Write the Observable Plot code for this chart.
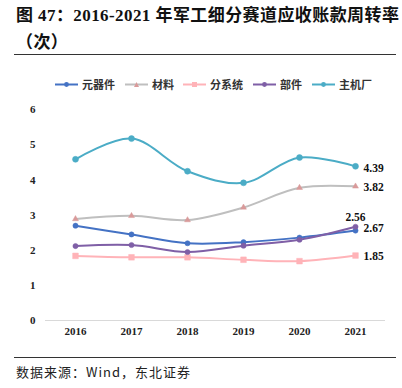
<!DOCTYPE html>
<html><head><meta charset="utf-8">
<script src="https://cdn.jsdelivr.net/npm/d3@7"></script>
<script src="https://cdn.jsdelivr.net/npm/@observablehq/plot@0.6"></script>
<style>
body{margin:0;background:#fff;width:402px;height:388px;position:relative;overflow:hidden;font-family:"Noto Sans CJK SC",sans-serif;}
#title{position:absolute;left:16px;top:2px;font-family:"Liberation Serif","Noto Sans CJK SC",serif;font-weight:bold;font-size:17px;line-height:27px;letter-spacing:0.42px;color:#111;white-space:nowrap;}
.rule{position:absolute;left:14px;width:382px;height:0;border-top:1.3px solid #333;}
#legend{position:absolute;top:76px;left:0;width:402px;height:16px;}
.li{position:absolute;top:0;height:16px;display:flex;align-items:center;font-size:11px;font-weight:bold;color:#333;}
.li svg{margin-right:4px;}
#chart{position:absolute;left:0;top:60px;}
#source{position:absolute;left:16px;top:362px;font-size:13px;letter-spacing:1px;color:#222;}
</style></head>
<body>
<div id="title">图 47：2016-2021 年军工细分赛道应收账款周转率<br>（次）</div>
<div class="rule" style="top:54px"></div>
<div id="legend"></div>
<div id="chart"></div>
<div class="rule" style="top:357px"></div>
<div id="source">数据来源：Wind，东北证券</div>
<script>
const years = ["2016","2017","2018","2019","2020","2021"];
const seriesNames = ["元器件","材料","分系统","部件","主机厂"];
const yuanqijian = [2.70, 2.45, 2.20, 2.23, 2.36, 2.56];
const cailiao = [2.89, 2.98, 2.86, 3.22, 3.78, 3.82];
const fenxitong = [1.84, 1.80, 1.80, 1.73, 1.69, 1.85];
const bujian = [2.12, 2.15, 1.95, 2.13, 2.30, 2.67];
const zhujichang = [4.59, 5.18, 4.25, 3.92, 4.64, 4.39];
const yTicks = [0,1,2,3,4,5,6];

const seriesValues = [yuanqijian, cailiao, fenxitong, bujian, zhujichang];
const lineColors = ["#4472c4","#bfbfbf","#ffb3b8","#7f5fa6","#4bacc6"];
const markColors = ["#4472c4","#d99a9a","#ffb3b8","#7f5fa6","#4bacc6"];
const symbols = ["circle","triangle","square","circle","circle"];
const markR = [2.6,2.2,3.2,2.6,3];

const data = [];
seriesNames.forEach((s,i)=>years.forEach((y,j)=>data.push({series:s, year:y, value:seriesValues[i][j], idx:i})));

const labelOpts = {
  "元器件": {dx:0, dy:-13.5, anchor:"middle"},
  "材料": {dx:8, dy:1, anchor:"start"},
  "分系统": {dx:8, dy:1, anchor:"start"},
  "部件": {dx:8, dy:1.5, anchor:"start"},
  "主机厂": {dx:8, dy:1.5, anchor:"start"}
};

const marks = [
  Plot.ruleY([0], {stroke:"#d9d9d9", strokeWidth:1.2}),
  Plot.axisY({ticks: yTicks, tickSize:0, tickPadding:10, fontSize:11, fontWeight:"bold", fill:"#222", fontFamily:"Liberation Serif", tickFormat:d=>String(d), label:null}),
  Plot.axisX({tickSize:0, tickPadding:7, fontSize:11, fontWeight:"bold", fill:"#222", fontFamily:"Liberation Serif", label:null})
];
seriesNames.forEach((s,i)=>{
  const d = data.filter(r=>r.series===s);
  marks.push(Plot.line(d, {x:"year", y:"value", stroke:lineColors[i], strokeWidth:2, curve:"catmull-rom"}));
  marks.push(Plot.dot(d, {x:"year", y:"value", symbol:symbols[i], r:markR[i], fill:markColors[i], stroke:markColors[i], strokeWidth:0.5}));
  const last = d.filter(r=>r.year===years[years.length-1]);
  const o = labelOpts[s];
  marks.push(Plot.text(last, {x:"year", y:"value", text:r=>r.value.toFixed(2), dx:o.dx, dy:o.dy, textAnchor:o.anchor, fontSize:11.5, fontWeight:"bold", fill:"#111", fontFamily:"Liberation Serif"}));
});

const chart = Plot.plot({
  width:402, height:290,
  marginLeft:45, marginRight:17, marginTop:49.3, marginBottom:30,
  x:{type:"point", domain:years, padding:0.5, axis:null, label:null},
  y:{domain:[0,6], axis:null, label:null},
  style:{background:"transparent", overflow:"visible"},
  marks
});
document.getElementById("chart").appendChild(chart);

// legend
const legendX = [55,125,183,253,312];
const legend = document.getElementById("legend");
seriesNames.forEach((s,i)=>{
  const div = document.createElement("div");
  div.className="li";
  div.style.left = legendX[i]+"px";
  const sym = symbols[i]==="square" ? `<rect x="9" y="5" width="5" height="5" fill="${markColors[i]}"/>`
    : symbols[i]==="triangle" ? `<path d="M11.5,5 L14,10 L9,10 Z" fill="${markColors[i]}"/>`
    : `<circle cx="11.5" cy="7.5" r="2.4" fill="${markColors[i]}"/>`;
  div.innerHTML = `<svg width="23" height="15"><line x1="0" x2="23" y1="7.5" y2="7.5" stroke="${lineColors[i]}" stroke-width="2"/>${sym}</svg><span>${s}</span>`;
  legend.appendChild(div);
});
</script>
</body></html>
